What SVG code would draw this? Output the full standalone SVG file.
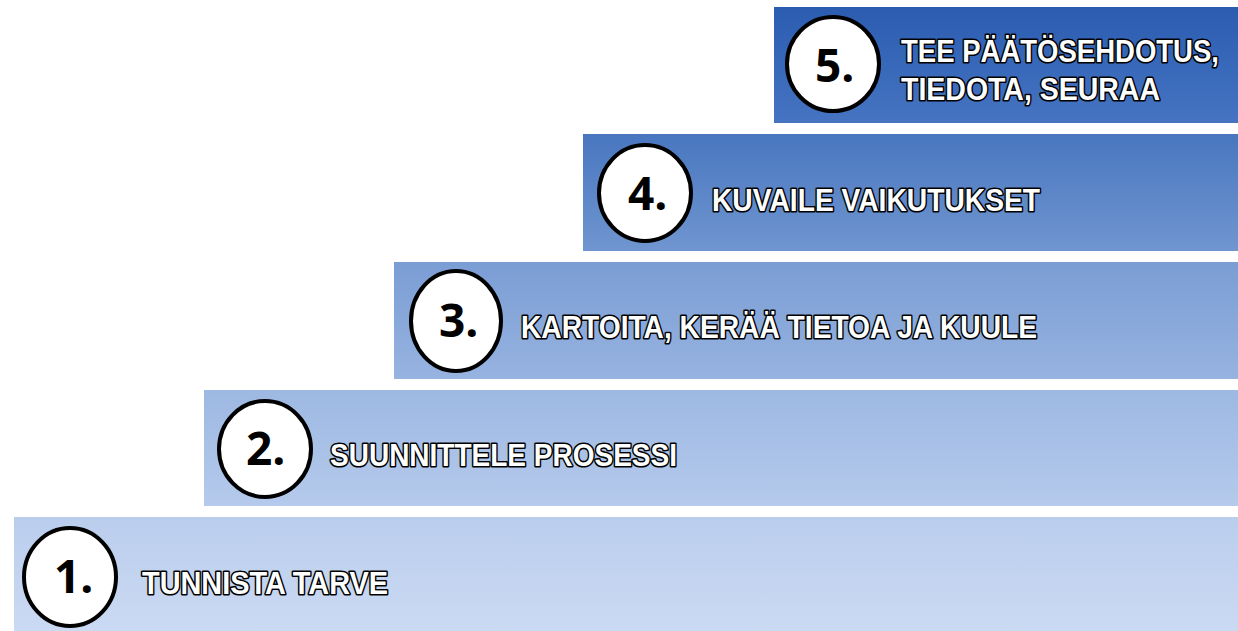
<svg xmlns="http://www.w3.org/2000/svg" width="1238" height="631" viewBox="0 0 1238 631">
<style>
.lbl{font-family:"Liberation Sans","Arial",sans-serif;font-weight:bold;font-size:31px;fill:#ffffff;stroke:#000000;stroke-width:3.2px;paint-order:stroke;stroke-linejoin:round}
.num{font-family:"Open Sans","Liberation Sans",sans-serif;font-weight:bold;font-size:46px;fill:#000000}
.circ{fill:#ffffff;stroke:#000000;stroke-width:4}
</style>
<defs>
<linearGradient id="g5" x1="0" y1="0" x2="0" y2="1"><stop offset="0" stop-color="#2a5cb0"/><stop offset="1" stop-color="#4674c2"/></linearGradient>
<linearGradient id="g4" x1="0" y1="0" x2="0" y2="1"><stop offset="0" stop-color="#4876bf"/><stop offset="1" stop-color="#7096d0"/></linearGradient>
<linearGradient id="g3" x1="0" y1="0" x2="0" y2="1"><stop offset="0" stop-color="#7a9dd4"/><stop offset="1" stop-color="#97b3e0"/></linearGradient>
<linearGradient id="g2" x1="0" y1="0" x2="0" y2="1"><stop offset="0" stop-color="#9db8e2"/><stop offset="1" stop-color="#b5caec"/></linearGradient>
<linearGradient id="g1" x1="0" y1="0" x2="0" y2="1"><stop offset="0" stop-color="#bacded"/><stop offset="1" stop-color="#cbdaf3"/></linearGradient>
</defs>
<rect width="1238" height="631" fill="#ffffff"/>
<g id="step5">
<rect x="774" y="7" width="464" height="116" fill="url(#g5)"/>
<ellipse class="circ" cx="833" cy="64" rx="46" ry="47"/>
<text class="num" x="815" y="82">5.</text>
<text class="lbl" x="901" y="62" textLength="318" lengthAdjust="spacingAndGlyphs">TEE PÄÄTÖSEHDOTUS,</text>
<text class="lbl" x="901" y="100" textLength="259" lengthAdjust="spacingAndGlyphs">TIEDOTA, SEURAA</text>
</g>
<g id="step4">
<rect x="583" y="134" width="655" height="117" fill="url(#g4)"/>
<ellipse class="circ" cx="645" cy="193" rx="46" ry="48"/>
<text class="num" x="628" y="210">4.</text>
<text class="lbl" x="712" y="211" textLength="328" lengthAdjust="spacingAndGlyphs">KUVAILE VAIKUTUKSET</text>
</g>
<g id="step3">
<rect x="394" y="262" width="844" height="117" fill="url(#g3)"/>
<ellipse class="circ" cx="456" cy="321" rx="45" ry="50"/>
<text class="num" x="439" y="337">3.</text>
<text class="lbl" x="521" y="338" textLength="516" lengthAdjust="spacingAndGlyphs">KARTOITA, KERÄÄ TIETOA JA KUULE</text>
</g>
<g id="step2">
<rect x="204" y="390" width="1034" height="116" fill="url(#g2)"/>
<ellipse class="circ" cx="265" cy="449" rx="46" ry="48"/>
<text class="num" x="246" y="465">2.</text>
<text class="lbl" x="330" y="466" textLength="347" lengthAdjust="spacingAndGlyphs">SUUNNITTELE PROSESSI</text>
</g>
<g id="step1">
<rect x="14" y="517" width="1224" height="114" fill="url(#g1)"/>
<ellipse class="circ" cx="70" cy="577" rx="46" ry="49"/>
<text class="num" x="54" y="593">1.</text>
<text class="lbl" x="142" y="594" textLength="246" lengthAdjust="spacingAndGlyphs">TUNNISTA TARVE</text>
</g>
<g id="connectors"/>
</svg>
